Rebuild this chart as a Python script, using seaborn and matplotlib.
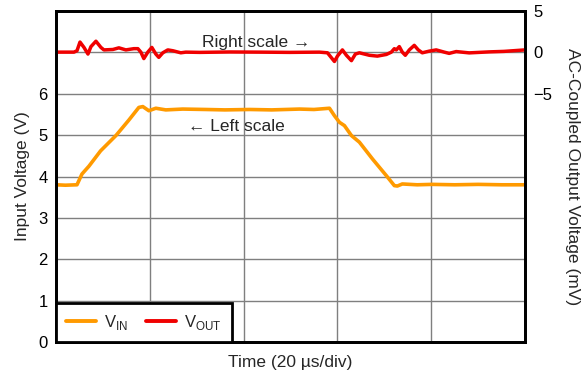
import numpy as np
import pandas as pd
import matplotlib
matplotlib.use("Agg")
import matplotlib.pyplot as plt
import seaborn as sns

# input voltage trace (left scale, V) vs time (us)
vin_t = [0.0, 2.0, 4.47, 5.53, 7.02, 9.5, 12.77, 15.5, 17.66, 18.51, 19.79, 21.28,
         23.4, 27.0, 31.91, 36.0, 41.3, 46.0, 51.91, 55.0, 58.3, 59.36, 60.43,
         61.49, 62.98, 64.68, 67.5, 70.43, 72.13, 72.77, 73.83, 77.0, 80.21,
         85.0, 90.0, 95.0, 100.0]
vin_v = [3.80, 3.79, 3.80, 4.06, 4.25, 4.62, 4.99, 5.36, 5.67, 5.69, 5.59, 5.65,
         5.61, 5.63, 5.62, 5.61, 5.62, 5.61, 5.63, 5.62, 5.65, 5.47, 5.31,
         5.23, 4.99, 4.83, 4.42, 4.02, 3.78, 3.77, 3.82, 3.80, 3.81,
         3.80, 3.81, 3.80, 3.80]

# ac-coupled output trace (right scale, mV)
vout_t = [0.0, 3.83, 4.47, 5.11, 5.96, 6.81, 7.45, 8.51, 9.57, 10.21, 12.13, 13.40,
          14.89, 16.60, 17.45, 18.09, 18.72, 19.57, 20.43, 21.28, 21.91, 22.77,
          23.83, 24.89, 26.60, 27.66, 30.64, 37.0, 43.4, 49.8, 56.17, 57.87,
          59.36, 60.0, 61.06, 61.91, 62.98, 63.83, 64.68, 66.81, 68.51, 70.43,
          71.49, 72.13, 72.55, 73.19, 73.83, 74.47, 75.32, 76.38, 77.23, 78.09,
          79.57, 81.06, 82.77, 83.83, 85.32, 88.09, 92.34, 95.5, 100.0]
vout_mv = [0.03, 0.03, 0.2, 1.25, 0.6, -0.2, 0.7, 1.35, 0.6, 0.3, 0.35, 0.55,
           0.3, 0.45, 0.45, 0.03, -0.75, 0.03, 0.6, -0.2, -0.6, -0.05,
           0.3, 0.2, -0.05, 0.03, 0.0, 0.05, 0.03, 0.0, 0.03, -0.05,
           -1.1, -0.45, 0.3, -0.35, -1.0, -0.2, -0.05, -0.35, -0.45, -0.25,
           0.03, 0.45, 0.3, 0.7, 0.03, -0.35, 0.3, 0.85, 0.3, -0.05,
           0.15, 0.3, 0.03, -0.12, 0.1, -0.06, 0.06, 0.12, 0.3]

left_ticks = [0, 1, 2, 3, 4, 5, 6, 7]
left_labels = ["0", "1", "2", "3", "4", "5", "6", ""]
right_ticks = [-5, 0, 5]

sns.set_style("white")
plt.rcParams["font.family"] = ["Liberation Sans", "DejaVu Sans"]

orange = "#FF9A00"
red = "#F00000"

fig = plt.figure(figsize=(5.86, 3.77), dpi=100)
ax = fig.add_axes([0.0956, 0.0928, 0.8004, 0.878])
ax2 = ax.twinx()

df_in = pd.DataFrame({"t": vin_t, "v": vin_v})
df_out = pd.DataFrame({"t": vout_t, "v": vout_mv})
sns.lineplot(data=df_in, x="t", y="v", ax=ax, color=orange, lw=2.6, label=None)
sns.lineplot(data=df_out, x="t", y="v", ax=ax2, color=red, lw=2.5, label=None)

ax.set_xlim(0, 100)
ax.set_ylim(0, 8)
ax2.set_ylim(-35, 5)
ax.set_xticks([0, 20, 40, 60, 80, 100])
ax.set_xticklabels([])
ax.set_yticks(left_ticks)
ax.set_yticklabels(left_labels)
ax2.set_yticks(right_ticks)
ax.tick_params(length=0, labelsize=12, pad=6, colors="black")
ax2.tick_params(length=0, labelsize=12, pad=6, colors="black")
ax.grid(True, color="#7f7f7f", lw=1)
ax.set_axisbelow(True)

ax.set_xlabel("Time (20 µs/div)", fontsize=12.5, labelpad=3)
ax.set_ylabel("Input Voltage (V)", fontsize=12.5, labelpad=6)
ax2.set_ylabel("AC-Coupled Output Voltage (mV)", fontsize=12.5, rotation=270, labelpad=20)

for a in (ax, ax2):
    for s in a.spines.values():
        s.set_visible(True)
        s.set_color("black")
        s.set_linewidth(2)

ax.text(42.6, 7.23, "Right scale \u2192", fontsize=12.5, ha="center", va="center")
ax.text(38.5, 5.2, "\u2190 Left scale", fontsize=12.5, ha="center", va="center")

h1 = plt.Line2D([], [], color=orange, lw=2.8)
h2 = plt.Line2D([], [], color=red, lw=2.8)
leg = ax2.legend([h1, h2], ["V$_{\\mathregular{IN}}$", "V$_{\\mathregular{OUT}}$"],
                 loc="lower left", bbox_to_anchor=(0, 0, 0.375, 0.125),
                 mode="expand", ncol=2, fontsize=12, frameon=True, fancybox=False,
                 framealpha=1, edgecolor="black", borderaxespad=0,
                 handlelength=1.8, handletextpad=0.5, columnspacing=0.4,
                 borderpad=0.6)
leg.get_frame().set_linewidth(2)

fig.savefig("out.png", dpi=100)
